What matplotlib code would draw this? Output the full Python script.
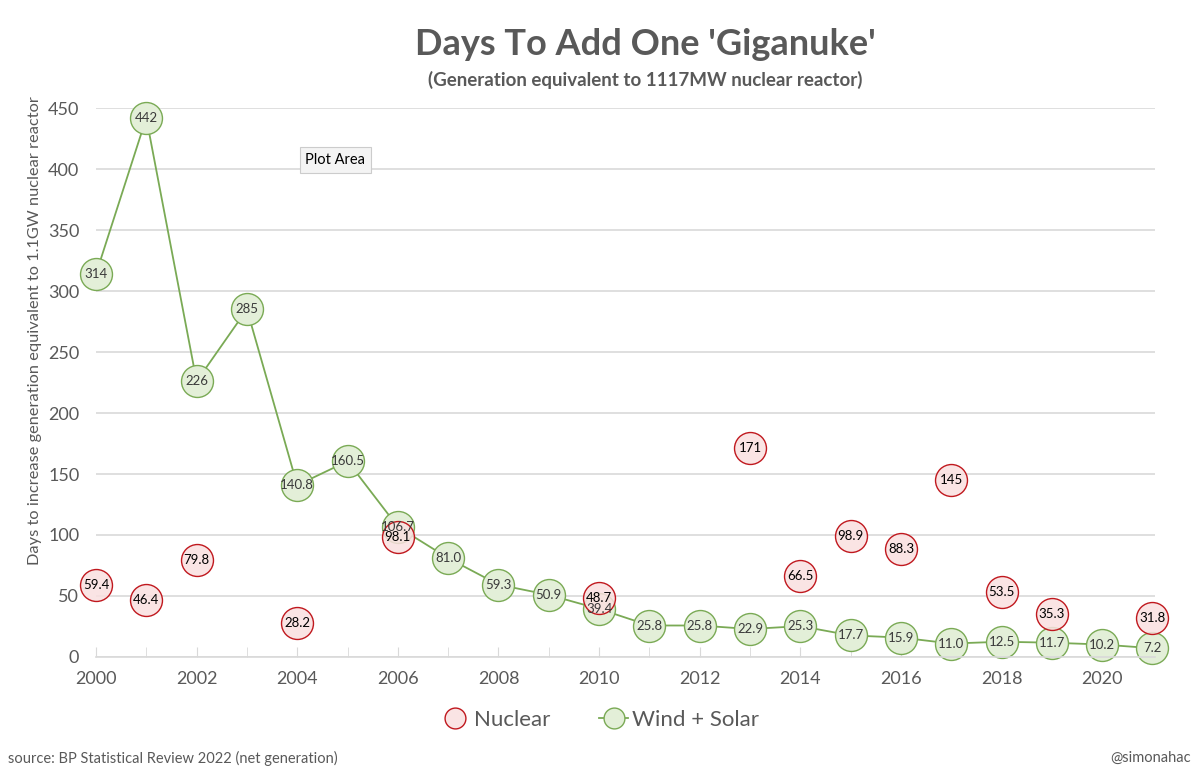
import numpy as np
import matplotlib
matplotlib.use("Agg")
import matplotlib.pyplot as plt
from matplotlib.lines import Line2D

plt.rcParams["font.family"] = ["Lato", "DejaVu Sans"]

years = list(range(2000, 2022))
wind_solar = [314, 442, 226, 285, 140.8, 160.5, 106.7, 81.0, 59.3, 50.9, 39.4,
              25.8, 25.8, 22.9, 25.3, 17.7, 15.9, 11.0, 12.5, 11.7, 10.2, 7.2]
wind_solar_labels = ["314", "442", "226", "285", "140.8", "160.5", "106.7", "81.0",
                     "59.3", "50.9", "39.4", "25.8", "25.8", "22.9", "25.3", "17.7",
                     "15.9", "11.0", "12.5", "11.7", "10.2", "7.2"]
nuclear_years = [2000, 2001, 2002, 2004, 2006, 2010, 2013, 2014, 2015, 2016, 2017, 2018, 2019, 2021]
nuclear = [59.4, 46.4, 79.8, 28.2, 98.1, 48.7, 171, 66.5, 98.9, 88.3, 145, 53.5, 35.3, 31.8]
nuclear_labels = ["59.4", "46.4", "79.8", "28.2", "98.1", "48.7", "171", "66.5",
                  "98.9", "88.3", "145", "53.5", "35.3", "31.8"]

green_edge = "#7aaa55"
green_fill = "#e3efd8"
red_edge = "#c0181e"
red_fill = (0.98, 0.88, 0.88, 0.85)
grey = "#595959"

fig = plt.figure(figsize=(12, 7.72), dpi=100)
ax = fig.add_axes([0.08, 0.149, 0.8825, 0.711])

ax.plot(years, wind_solar, color=green_edge, lw=1.3, zorder=2,
        marker="o", markersize=23, markerfacecolor=green_fill,
        markeredgecolor=green_edge, markeredgewidth=1.0)
ax.plot(nuclear_years, nuclear, ls="none", zorder=3,
        marker="o", markersize=23, markerfacecolor=red_fill,
        markeredgecolor=red_edge, markeredgewidth=1.0)

for x, y, s in zip(years, wind_solar, wind_solar_labels):
    ax.text(x, y, s, ha="center", va="center", fontsize=9.5, color="#3a3a3a", zorder=5)
for x, y, s in zip(nuclear_years, nuclear, nuclear_labels):
    ax.text(x, y, s, ha="center", va="center", fontsize=9.5, color="black", zorder=6)

ax.set_xlim(2000, 2021.05)
ax.set_ylim(0, 450)
ax.set_yticks(np.arange(0, 451, 50))
ax.set_xticks(range(2000, 2021, 2))
ax.set_xticks(range(2000, 2022), minor=True)
ax.grid(axis="y", color="#d9d9d9", lw=1.2)
ax.set_axisbelow(True)
for side in ["top", "right", "left"]:
    ax.spines[side].set_visible(False)
ax.spines["bottom"].set_color("#d9d9d9")
ax.spines["bottom"].set_linewidth(1.2)
ax.tick_params(axis="y", length=0, labelsize=13, labelcolor=grey, pad=12)
ax.tick_params(axis="x", which="both", direction="in", length=7, color="#d9d9d9",
               labelsize=13, labelcolor=grey, pad=10)
ax.set_ylabel("Days to increase generation equivalent to 1.1GW nuclear reactor",
              fontsize=11.8, color=grey)
ax.yaxis.set_label_coords(-0.051, 0.595)
for ln in ax.lines:
    ln.set_clip_on(False)

fig.text(0.5375, 0.942, "Days To Add One 'Giganuke'", ha="center", va="center",
         fontsize=26, fontweight="bold", color=grey)
fig.text(0.5375, 0.896, "(Generation equivalent to 1117MW nuclear reactor)", ha="center",
         va="center", fontsize=13.5, fontweight="bold", color=grey)

ax.text(0.226, 0.905, "Plot Area", transform=ax.transAxes, fontsize=10.5, color="black",
        ha="center", va="center", zorder=7,
        bbox=dict(boxstyle="square,pad=0.4", fc="#f4f4f4", ec="#cccccc", lw=0.8))

handles = [
    Line2D([], [], ls="none", marker="o", markersize=15, markerfacecolor=red_fill,
           markeredgecolor=red_edge, markeredgewidth=1.0, label="Nuclear"),
    Line2D([], [], color=green_edge, lw=1.3, marker="o", markersize=15,
           markerfacecolor=green_fill, markeredgecolor=green_edge,
           markeredgewidth=1.0, label="Wind + Solar"),
]
leg = fig.legend(handles=handles, loc="center", bbox_to_anchor=(0.5, 0.068), ncol=2,
                 frameon=False, fontsize=16, handlelength=1.3, handletextpad=0.2,
                 columnspacing=2.2)
for t in leg.get_texts():
    t.set_color(grey)

fig.text(0.007, 0.018, "source: BP Statistical Review 2022 (net generation)",
         fontsize=10.5, color=grey, ha="left", va="center")
fig.text(0.992, 0.018, "@simonahac", fontsize=10.5, color=grey, ha="right", va="center")

fig.savefig("out.png", dpi=100)
